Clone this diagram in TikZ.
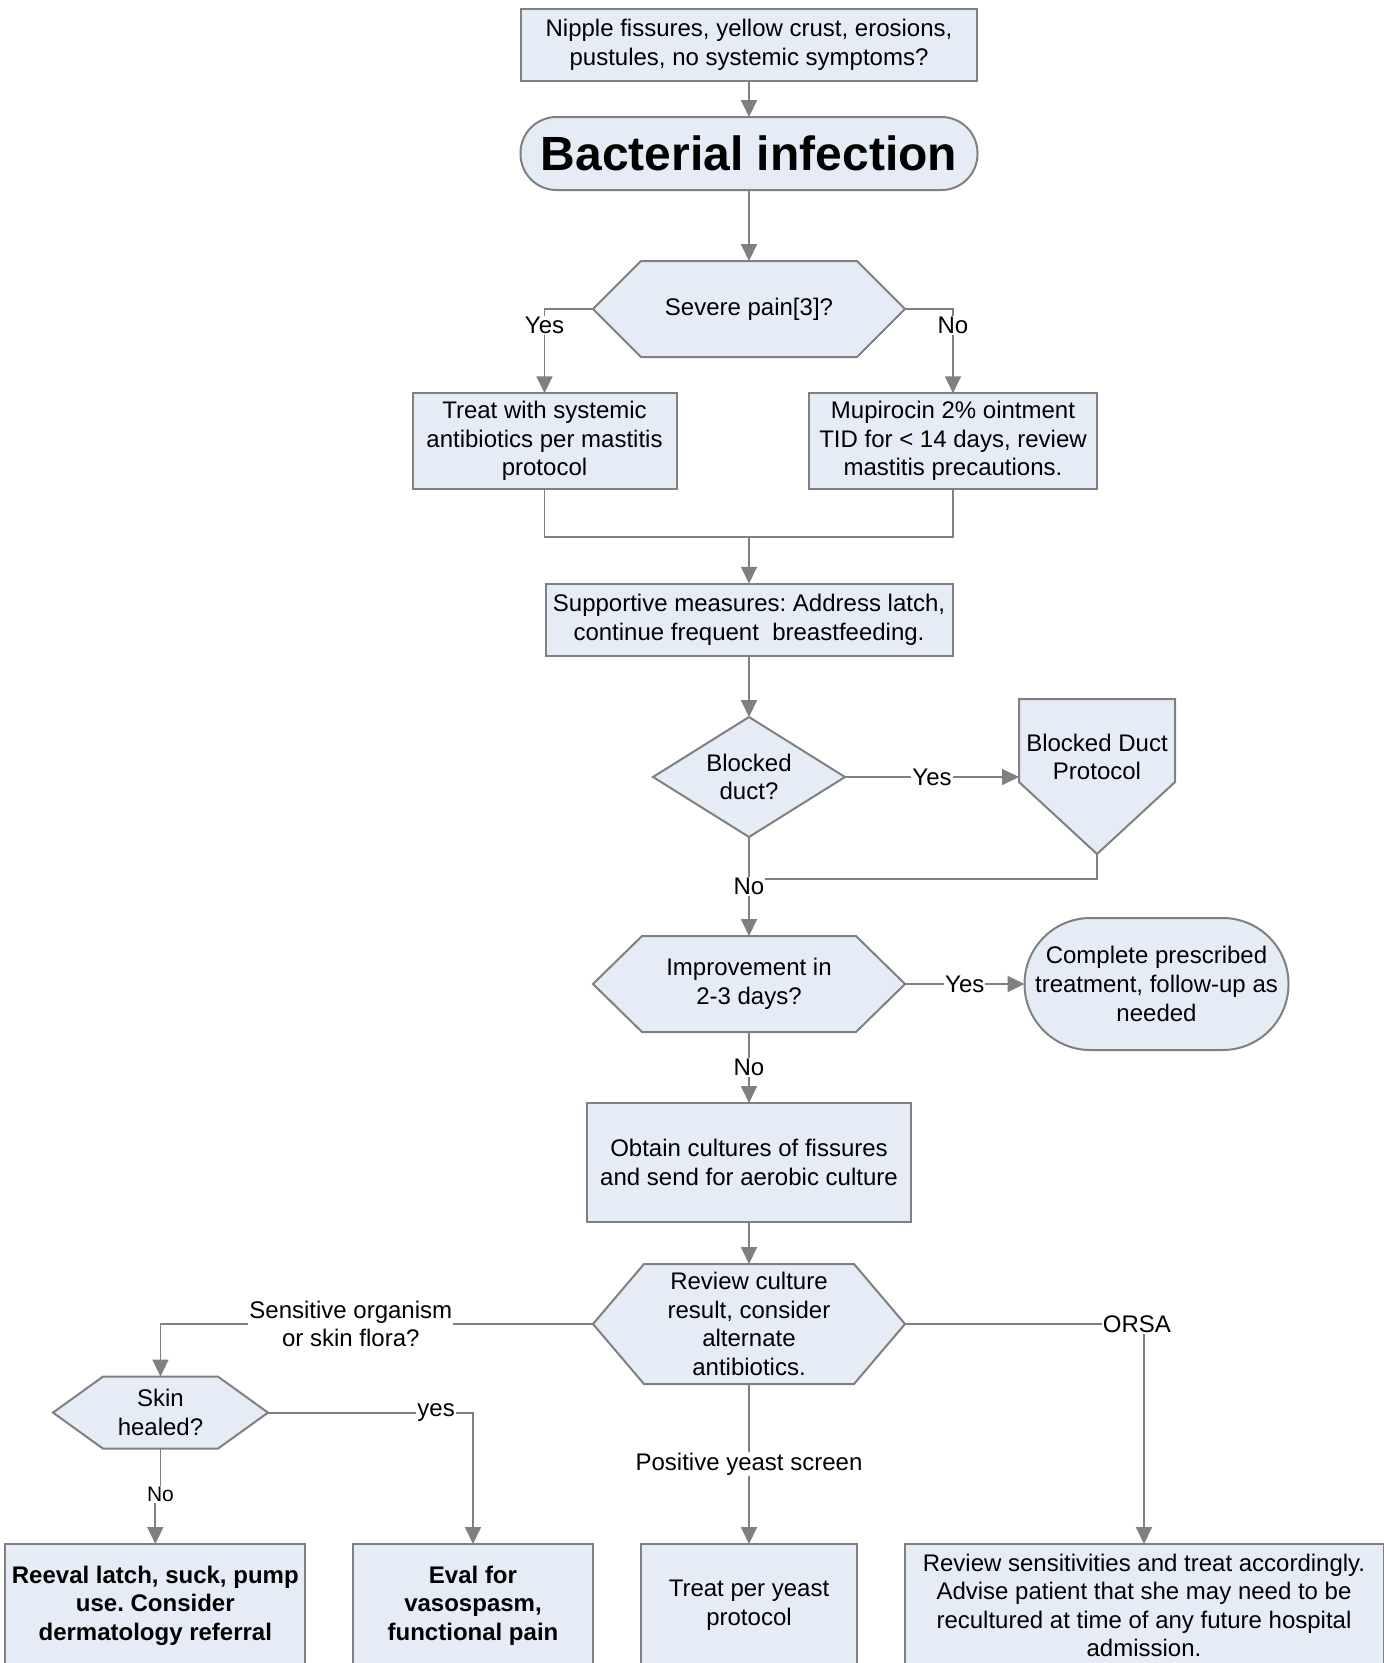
\documentclass[tikz,border=0pt]{standalone}
\usepackage{fontspec}
\setmainfont{Liberation Sans}
\usetikzlibrary{arrows.meta,calc}
\pgfdeclarelayer{bg}
\pgfsetlayers{bg,main}
\definecolor{boxfill}{RGB}{230,236,246}
\definecolor{edge}{RGB}{128,128,128}
\frenchspacing

\begin{document}
\begin{tikzpicture}[x=1pt,y=-1pt,
  every node/.style={outer sep=0pt, inner sep=0pt, align=center,
    font=\fontsize{24}{28.6}\selectfont},
  box/.style={draw=edge, line width=2pt, fill=boxfill},
  outline/.style={draw=edge, line width=2pt, fill=boxfill, line join=miter},
  bold/.style={font=\fontsize{24}{28.6}\selectfont\bfseries},
  flow/.style={draw=edge, line width=1.8pt, -{Triangle[length=17pt,width=16pt]}},
  plain/.style={draw=edge, line width=1.8pt},
  tag/.style={fill=white, inner sep=1pt}
]
\useasboundingbox (0,0) rectangle (1384,1663);

% ---- nodes ----
\node[box, minimum width=456pt, minimum height=72pt] (q1) at (749,45)
  {Nipple fissures, yellow crust, erosions,\\pustules, no systemic symptoms?};
\node[box, rounded corners=36pt, minimum width=457pt, minimum height=73pt,
  font=\fontsize{48}{56}\selectfont\bfseries] (bact) at (749,153.5) {Bacterial infection};
\node[minimum width=312pt, minimum height=96pt] (pain) at (749,309) {Severe pain[3]?};
\node[box, minimum width=264pt, minimum height=95.5pt] (sys) at (544.5,441)
  {Treat with systemic\\antibiotics per mastitis\\protocol};
\node[box, minimum width=288pt, minimum height=95.5pt] (mup) at (953,441)
  {Mupirocin 2\% ointment\\TID for < 14 days, review\\mastitis precautions.};
\coordinate (merge) at (749,537);
\node[box, minimum width=407pt, minimum height=72.5pt] (supp) at (749,620)
  {Supportive measures: Address latch,\\continue frequent~ breastfeeding.};
\node[minimum width=192pt, minimum height=120pt] (bd) at (749,777) {Blocked\\duct?};
\node[minimum width=156pt, minimum height=155pt] (bdp) at (1097,776.5) {};
\node (bdpt) at (1097,757) {Blocked Duct\\Protocol};
\coordinate (rejoin) at (749,879);
\node[minimum width=312pt, minimum height=96pt] (imp) at (749,984) {Improvement in\\2-3 days?};
\node[box, rounded corners=65.9pt, minimum width=264pt, minimum height=132pt] (comp)
  at (1156.5,984) {Complete prescribed\\treatment, follow-up as\\needed};
\node[box, minimum width=324.5pt, minimum height=119pt] (cult) at (749,1162.5)
  {Obtain cultures of fissures\\and send for aerobic culture};
\node[minimum width=312pt, minimum height=120pt] (rev) at (749,1324)
  {Review culture\\result, consider\\alternate\\antibiotics.};
\node[minimum width=215pt, minimum height=72pt] (skin) at (160.5,1412.6) {Skin\\healed?};
\node[box, bold, minimum width=300pt, minimum height=123pt] (reeval) at (155.3,1605.5)
  {Reeval latch, suck, pump\\use. Consider\\dermatology referral};
\node[box, bold, minimum width=240pt, minimum height=123pt] (eval) at (473,1605.5)
  {Eval for\\vasospasm,\\functional pain};
\node[box, minimum width=216.5pt, minimum height=123pt] (yeast) at (749,1605.5)
  {Treat per yeast\\protocol};
\node[box, minimum width=479pt, minimum height=123pt] (rsens) at (1144,1605.5)
  {Review sensitivities and treat accordingly.\\Advise patient that she may need to be\\recultured at time of any future hospital\\admission.};

% ---- outlined decision shapes behind their text ----
\begin{pgfonlayer}{bg}
  \fill[white] (0,0) rectangle (1384,1663);
  % hexagons
  \draw[outline] (pain.west) -- ([xshift=48pt]pain.north west) -- ([xshift=-48pt]pain.north east)
    -- (pain.east) -- ([xshift=-48pt]pain.south east) -- ([xshift=48pt]pain.south west) -- cycle;
  \draw[outline] (imp.west) -- ([xshift=49pt]imp.north west) -- ([xshift=-49pt]imp.north east)
    -- (imp.east) -- ([xshift=-49pt]imp.south east) -- ([xshift=49pt]imp.south west) -- cycle;
  \draw[outline] (rev.west) -- ([xshift=51pt]rev.north west) -- ([xshift=-51pt]rev.north east)
    -- (rev.east) -- ([xshift=-51pt]rev.south east) -- ([xshift=51pt]rev.south west) -- cycle;
  \draw[outline] (skin.west) -- ([xshift=50pt]skin.north west) -- ([xshift=-50pt]skin.north east)
    -- (skin.east) -- ([xshift=-50pt]skin.south east) -- ([xshift=50pt]skin.south west) -- cycle;
  % diamond
  \draw[outline] (bd.west) -- (bd.north) -- (bd.east) -- (bd.south) -- cycle;
  % off-page connector
  \draw[outline] (bdp.north west) -- (bdp.north east) -- ($(bdp.north east)+(0,83)$)
    -- (bdp.south) -- ($(bdp.north west)+(0,83)$) -- cycle;
\end{pgfonlayer}

% ---- connectors ----
\draw[flow] (q1.south) -- (bact.north);
\draw[flow] (bact.south) -- (pain.north);
\draw[flow] (pain.west) -| (sys.north) node[tag, pos=0.6] {Yes};
\draw[flow] (pain.east) -| (mup.north) node[tag, pos=0.6] {No};
\draw[plain] (sys.south) |- (merge) -| (mup.south);
\draw[flow] (merge) -- (supp.north);
\draw[flow] (supp.south) -- (bd.north);
\draw[flow] (bd.east) -- (bd.east -| bdp.west) node[tag, midway] {Yes};
\draw[plain] (bdp.south) |- (rejoin);
\draw[flow] (bd.south) -- (imp.north) node[tag, midway] {No};
\draw[flow] (imp.east) -- (comp.west) node[tag, midway] {Yes};
\draw[flow] (imp.south) -- (cult.north) node[tag, midway] {No};
\draw[flow] (cult.south) -- (rev.north);
\draw[flow] (rev.west) -| (skin.north) node[tag, pos=0.28] {Sensitive organism\\or skin flora?};
\draw[flow] (rev.east) -| (rsens.north) node[tag, pos=0.485] {ORSA};
\draw[flow] (rev.south) -- (yeast.north) node[tag, midway] {Positive yeast screen};
\draw[flow] (skin.east) -| (eval.north) node[tag, pos=0.41] {yes};
\draw[flow] (skin.south) -- ++(0,46) node[tag, font=\fontsize{21}{25}\selectfont] {No} -| (reeval.north);
\end{tikzpicture}
\end{document}
